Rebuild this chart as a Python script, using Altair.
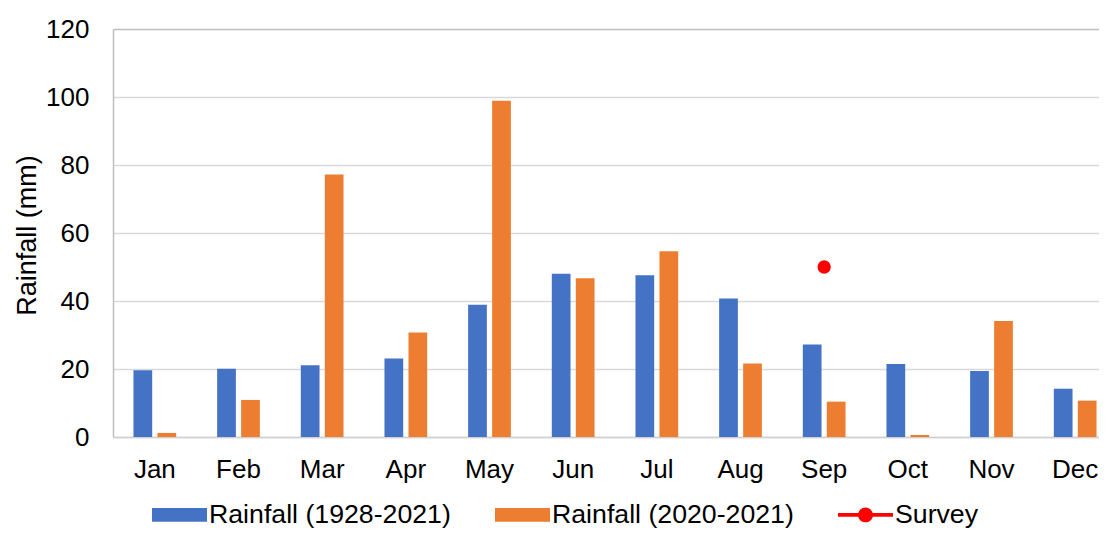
import altair as alt
import pandas as pd

months = ["Jan", "Feb", "Mar", "Apr", "May", "Jun", "Jul", "Aug", "Sep", "Oct", "Nov", "Dec"]
rain_1928_2021 = [19.6, 20.1, 21.1, 23.1, 38.9, 48.0, 47.6, 40.7, 27.2, 21.5, 19.4, 14.2]
rain_2020_2021 = [1.2, 10.9, 77.2, 30.7, 98.9, 46.7, 54.6, 21.6, 10.4, 0.6, 34.1, 10.7]
survey_months = ["Sep"]
survey_values = [50]
series_names = ["Rainfall (1928-2021)", "Rainfall (2020-2021)", "Survey"]
series_colors = ["#4472C4", "#ED7D31", "#FF0000"]
y_ticks = [0, 20, 40, 60, 80, 100, 120]

FONT = "Arial, Liberation Sans, sans-serif"

bars_df = pd.DataFrame(
    {"month": months, "value": rain_1928_2021, "series": series_names[0]}
)
bars_df = pd.concat(
    [bars_df, pd.DataFrame({"month": months, "value": rain_2020_2021, "series": series_names[1]})],
    ignore_index=True,
)
survey_df = pd.DataFrame({"month": survey_months, "value": survey_values, "series": series_names[2]})

RECT = "M-1,-0.25H1V0.25H-1Z"
LINEDOT = "M-1,-0.07H1V0.07H-1Z M-0.27,0A0.27,0.27 0 1,1 0.27,0A0.27,0.27 0 1,1 -0.27,0Z"

color = alt.Color(
    "series:N",
    scale=alt.Scale(domain=series_names, range=series_colors),
    legend=alt.Legend(
        title=None,
        orient="none",
        direction="horizontal",
        legendX=39,
        legendY=458,
        symbolSize=3025,
        symbolType={"expr": "datum.value === 'Survey' ? '" + LINEDOT + "' : '" + RECT + "'"},
        symbolStrokeWidth=0,
        symbolOpacity=1,
        labelFont=FONT,
        labelFontSize=26.7,
        labelColor="#000000",
        labelOffset=2,
        labelLimit=400,
        columnPadding=44,
        padding=0,
    ),
)

x_enc = alt.X(
    "month:N",
    sort=months,
    scale=alt.Scale(paddingInner=0, paddingOuter=0, range=[0, 1004]),
    axis=alt.Axis(
        title=None,
        labelAngle=0,
        labelFont=FONT,
        labelFontSize=26,
        labelColor="#000000",
        labelPadding=40,
        labelBaseline="alphabetic",
        ticks=False,
        domain=True,
        domainColor="#D0D0D0",
        domainWidth=1.5,
        grid=False,
    ),
)

y_enc = alt.Y(
    "value:Q",
    scale=alt.Scale(domain=[0, 120], nice=False),
    axis=alt.Axis(
        title="Rainfall (mm)",
        values=y_ticks,
        labelFont=FONT,
        labelFontSize=26,
        labelColor="#000000",
        labelPadding=24,
        ticks=False,
        domain=True,
        domainColor="#BFBFBF",
        domainWidth=1.5,
        grid=True,
        gridColor={"condition": {"test": "datum.value === 120", "value": "#BFBFBF"}, "value": "#D9D9D9"},
        gridWidth=1.4,
        titleFont=FONT,
        titleFontSize=27,
        titleFontWeight="normal",
        titleColor="#000000",
        titleAngle=270,
        titleX=-78,
        titleY=206,
        titleAlign="center",
        titleBaseline="alphabetic",
    ),
)

bars = (
    alt.Chart(bars_df)
    .mark_bar()
    .encode(
        x=x_enc,
        xOffset=alt.XOffset(
            "series:N",
            sort=series_names[:2],
            scale=alt.Scale(paddingInner=0.22, paddingOuter=0.853),
        ),
        y=y_enc,
        color=color,
    )
)

points = (
    alt.Chart(survey_df)
    .mark_point(filled=True, size=177, opacity=1)
    .encode(x=alt.X("month:N", sort=months), y=alt.Y("value:Q"), color=color)
)

chart = (
    alt.layer(bars, points)
    .properties(
        width=986,
        height=408,
        autosize=alt.AutoSizeParams(type="none"),
        padding={"left": 105, "top": 21, "right": 0, "bottom": 96},
    )
    .configure_view(stroke=None)
    .configure(background="white")
)

chart.save("out.html", embed_options={"renderer": "svg", "actions": False})
